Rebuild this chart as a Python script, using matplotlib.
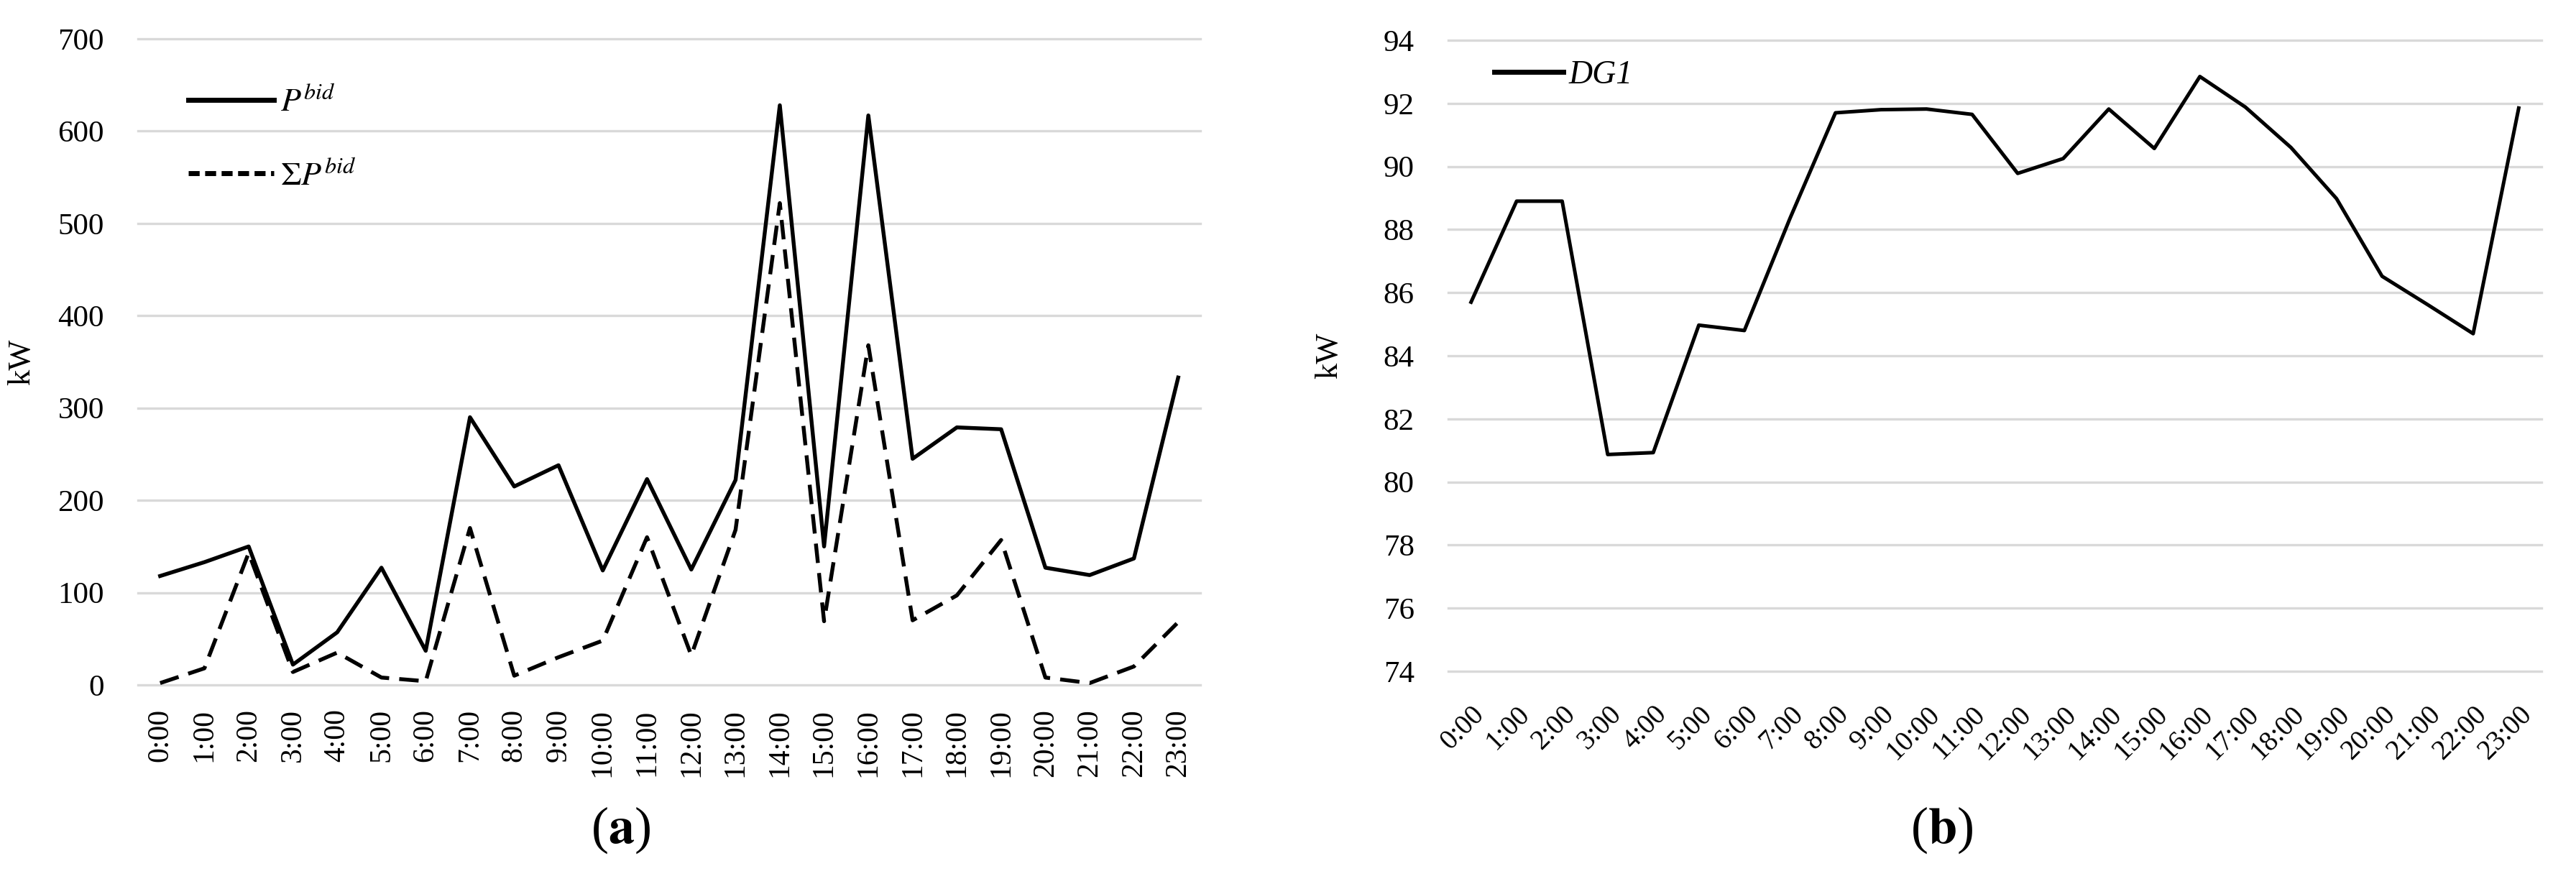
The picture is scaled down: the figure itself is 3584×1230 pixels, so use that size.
import matplotlib
matplotlib.use("Agg")
import matplotlib.pyplot as plt
from matplotlib.lines import Line2D

# ─────────────────────────────────────
# DATA
# ─────────────────────────────────────
HOURS = [f"{h}:00" for h in range(24)]

P_BID = [118, 133, 150, 22, 57, 127, 37, 290, 215, 238, 124, 223,
         125, 222, 628, 150, 617, 245, 279, 277, 127, 119, 137, 333]
SUM_P_BID = [2, 18, 143, 14, 35, 8, 4, 170, 10, 30, 48, 160,
             32, 168, 522, 69, 368, 70, 97, 157, 8, 2, 20, 68]

DG1 = [85.7, 88.9, 88.9, 80.87, 80.93, 84.97, 84.8, 88.35, 91.7, 91.8, 91.82, 91.65,
       89.78, 90.25, 91.82, 90.57, 92.85, 91.88, 90.6, 88.98, 86.52, 85.62, 84.7, 91.85]

GRID_COLOR = "#d9d9d9"

plt.rcParams["font.family"] = ["Liberation Serif", "DejaVu Serif"]
plt.rcParams["mathtext.fontset"] = "stix"

fig = plt.figure(figsize=(35.84, 12.30), dpi=100)
ax1 = fig.add_axes([192 / 3584, 1 - 953 / 1230, 1478 / 3584, 899 / 1230])
ax2 = fig.add_axes([2015 / 3584, 1 - 934 / 1230, 1521 / 3584, 878 / 1230])

x = list(range(len(HOURS)))

# ─────────────────────────────────────
# (a) bids
# ─────────────────────────────────────
ax1.plot(x, P_BID, color="black", lw=3.9)
ax1.plot(x, SUM_P_BID, color="black", lw=3.9, dashes=(5, 2.6))
ax1.set_ylim(0, 700)
ax1.set_yticks(range(0, 701, 100))

# ─────────────────────────────────────
# (b) DG1
# ─────────────────────────────────────
ax2.plot(x, DG1, color="black", lw=3.6)
ax2.set_ylim(74, 94)
ax2.set_yticks(range(74, 95, 2))

for ax in (ax1, ax2):
    ax.set_xlim(-0.5, len(HOURS) - 0.5)
    for s in ax.spines.values():
        s.set_visible(False)
    ax.grid(axis="y", color=GRID_COLOR, lw=2.4)
    ax.set_axisbelow(True)
    for gl in ax.get_ygridlines():
        gl.set_clip_on(False)
    ax.tick_params(length=0)
    ax.tick_params(axis="y", labelsize=31, pad=34)
    ax.set_xticks(x)
    ax.set_ylabel("kW", fontsize=32)
    ax.yaxis.set_label_coords(-0.096, 0.5)

ax1.set_xticklabels(HOURS, rotation=90, fontsize=30)
ax1.tick_params(axis="x", pad=24)
ax2.set_xticklabels(HOURS, rotation=45, fontsize=28, ha="right",
                    rotation_mode="anchor")
ax2.tick_params(axis="x", pad=30)

# legends
h_solid = Line2D([], [], color="black", lw=5)
h_dash = Line2D([], [], color="black", lw=5, dashes=(2.2, 1.1))
ax1.legend([h_solid, h_dash], [r"$P^{bid}$", r"$\mathit{\Sigma}P^{bid}$"],
           loc="upper left", bbox_to_anchor=(0.035, 0.945), frameon=False,
           fontsize=33, handlelength=2.6, handletextpad=0.2,
           labelspacing=1.3, borderaxespad=0)
ax2.legend([h_solid], ["DG1"], loc="upper left",
           bbox_to_anchor=(0.030, 0.99), frameon=False,
           prop={"size": 33, "style": "italic"},
           handlelength=2.1, handletextpad=0.15, borderaxespad=0)

# captions
fig.text(864 / 3584, 1 - 1155 / 1230, r"($\mathbf{a}$)", fontsize=52,
         ha="center", va="center")
fig.text(2702 / 3584, 1 - 1155 / 1230, r"($\mathbf{b}$)", fontsize=52,
         ha="center", va="center")

fig.savefig("out.png", dpi=100)
